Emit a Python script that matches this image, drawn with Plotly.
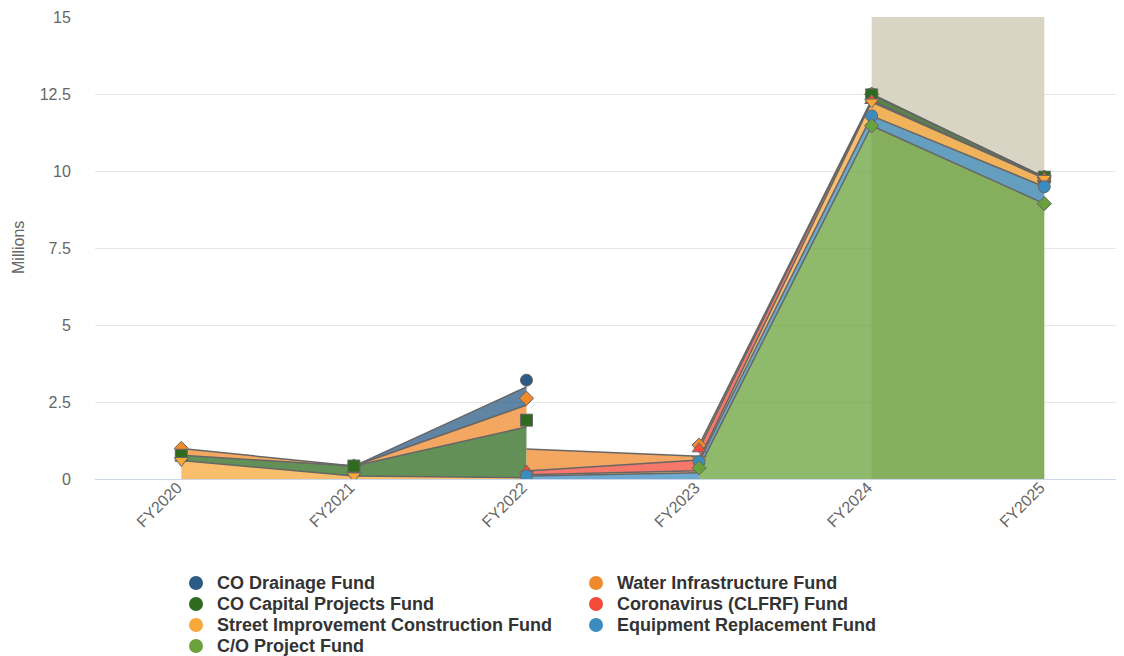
import plotly.graph_objects as go

categories = ["FY2020", "FY2021", "FY2022", "FY2023", "FY2024", "FY2025"]

# values in millions, None = no entry for that year
co_drainage = [None, 0, 0.59, None, 0.01, 0.0]
water_infrastructure = [0.22, 0, 0.71, 0.12, 0.02, 0.0]
co_capital_projects = [0.17, 0.32, 1.65, None, 0.18, 0.03]
coronavirus = [None, None, 0.12, 0.35, 0.05, 0.01]
street_improvement = [0.6, 0.1, 0.04, 0.07, 0.45, 0.27]
equipment_replacement = [None, None, 0.1, 0.2, 0.32, 0.55]
co_project = [None, None, None, 0.36, 11.47, 8.94]

y_ticks = [0, 2.5, 5, 7.5, 10, 12.5, 15]
y_tick_labels = ["0", "2.5", "5", "7.5", "10", "12.5", "15"]

# legend order (top of stack first)
series = [
    ("CO Drainage Fund", co_drainage, "#2b5b84", "circle"),
    ("Water Infrastructure Fund", water_infrastructure, "#ef8a2c", "diamond"),
    ("CO Capital Projects Fund", co_capital_projects, "#2f6b1f", "square"),
    ("Coronavirus (CLFRF) Fund", coronavirus, "#f44a3a", "triangle-up"),
    ("Street Improvement Construction Fund", street_improvement, "#f8a73a", "triangle-down"),
    ("Equipment Replacement Fund", equipment_replacement, "#3d8cbf", "circle"),
    ("C/O Project Fund", co_project, "#6aa13a", "diamond"),
]


def rgba(hex_color, a):
    h = hex_color.lstrip("#")
    return f"rgba({int(h[0:2], 16)},{int(h[2:4], 16)},{int(h[4:6], 16)},{a})"


bottom_up = list(reversed(series))
n = len(categories)


def base(k, i):
    return sum(bottom_up[j][1][i] for j in range(k) if bottom_up[j][1][i] is not None)


def cliff(k, i, other):
    # values below this series that exist here but not in the neighbouring year
    return sum(bottom_up[j][1][i] for j in range(k)
               if bottom_up[j][1][i] is not None and bottom_up[j][1][other] is None)


fig = go.Figure()

area_traces = []
line_traces = []
marker_traces = []
for k, (name, vals, color, sym) in enumerate(bottom_up):
    px, py, lx, ly = [], [], [], []
    for i in range(n - 1):
        a, b = vals[i], vals[i + 1]
        if a is None or b is None:
            continue
        lb = base(k, i) - cliff(k, i, i + 1)
        rb = base(k, i + 1) - cliff(k, i + 1, i)
        px += [i, i, i + 1, i + 1, i, None]
        py += [lb, lb + a, rb + b, rb, lb, None]
        lx += [i, i + 1, None]
        ly += [lb + a, rb + b, None]
    area_traces.append(go.Scatter(
        x=px, y=py, mode="lines", fill="toself", fillcolor=rgba(color, 0.75),
        line=dict(width=0), showlegend=False, hoverinfo="skip"))
    line_traces.append(go.Scatter(
        x=lx, y=ly, mode="lines", line=dict(color="#666666", width=1.5),
        showlegend=False, hoverinfo="skip"))
    mx = [i for i in range(n) if vals[i] is not None]
    my = [base(k, i) + vals[i] for i in mx]
    marker_traces.append(go.Scatter(
        x=mx, y=my, mode="markers", name=name, showlegend=False,
        marker=dict(symbol=sym, size=12 if sym != "diamond" else 11, color=color,
                    line=dict(color="#666666", width=1))))

for t in area_traces:
    fig.add_trace(t)
for t in line_traces:
    fig.add_trace(t)
# top series markers first so lower series sit on top
for t in reversed(marker_traces):
    fig.add_trace(t)

fig.add_shape(type="rect", xref="x", yref="y", x0=4, x1=5, y0=0, y1=15,
              fillcolor="#d8d5c4", line=dict(width=0), layer="between")

# legend drawn by hand: two columns, rows filled left to right
plot_left, plot_w, plot_bottom, plot_h = 87, 1029, 470, 462
for idx, (name, vals, color, sym) in enumerate(series):
    col, row = idx % 2, idx // 2
    cx = 188 + col * 400
    cy = 574 + row * 21
    xp = (cx - plot_left) / plot_w
    yp = (plot_bottom - cy) / plot_h
    fig.add_shape(type="circle", xref="paper", yref="paper",
                  xsizemode="pixel", ysizemode="pixel", xanchor=xp, yanchor=yp,
                  x0=-7, x1=7, y0=-7, y1=7, fillcolor=color, line=dict(width=0))
    fig.add_annotation(xref="paper", yref="paper", x=xp + 19 / plot_w, y=yp,
                       xanchor="left", yanchor="middle", showarrow=False, text=f"<b>{name}</b>",
                       font=dict(size=18, color="#333333"))

# y axis title
fig.add_annotation(xref="paper", yref="paper", x=(10 - plot_left) / plot_w, y=(470 - 239) / plot_h,
                   xanchor="center", yanchor="middle", showarrow=False, textangle=-90,
                   text="Millions", font=dict(size=16, color="#666666"))

fig.update_xaxes(
    range=[-0.5, 5.462], tickvals=list(range(n)), ticktext=categories,
    tickangle=-45, showgrid=False, zeroline=False,
    showline=True, linecolor="#ccd6eb", linewidth=1,
    ticks="", ticklabelstandoff=-8, ticklabelshift=-4,
    tickfont=dict(size=16, color="#666666"))
fig.update_yaxes(
    range=[0, 15], tickvals=y_ticks, ticktext=y_tick_labels,
    showgrid=True, gridcolor="#e6e6e6", zeroline=False,
    ticks="outside", ticklen=20, tickcolor="rgba(0,0,0,0)",
    tickfont=dict(size=16, color="#666666"))

fig.update_layout(
    width=1116, height=648,
    margin=dict(l=87, r=0, t=9, b=177, autoexpand=False),
    paper_bgcolor="white", plot_bgcolor="white",
    font=dict(family="Liberation Sans, Arial, sans-serif"),
    showlegend=False,
)

fig.write_html("out.html")
